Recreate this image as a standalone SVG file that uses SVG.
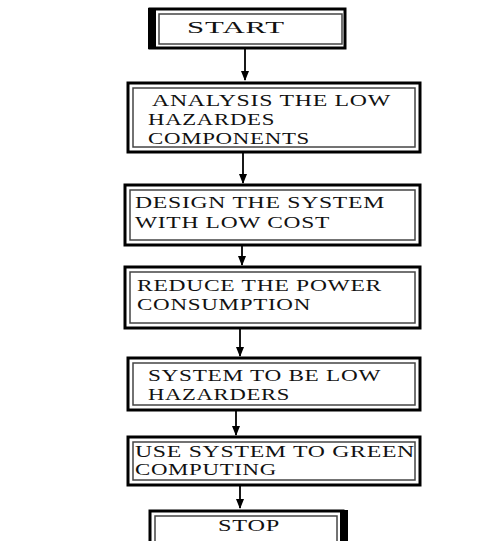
<svg xmlns="http://www.w3.org/2000/svg" width="495" height="541" viewBox="0 0 495 541">
<defs>
<style>
.o{fill:#fff;stroke:#000;stroke-width:3}
.i{fill:none;stroke:#444;stroke-width:1.5}
.t{font-family:"Liberation Serif","Times New Roman",serif;font-size:16px;letter-spacing:0.5px;fill:#111}
.c{stroke:#000;stroke-width:1.8;fill:none;marker-end:url(#ah)}
</style>
<marker id="ah" markerWidth="10" markerHeight="8" refX="9" refY="4" orient="auto" markerUnits="userSpaceOnUse">
<path d="M0,0 L10,4 L0,8 Z" fill="#000"/>
</marker>
</defs>
<rect width="495" height="541" fill="#fff"/>
<g id="connectors">
<line class="c" x1="245" y1="48" x2="245" y2="80"/>
<line class="c" x1="243" y1="153" x2="243" y2="183"/>
<line class="c" x1="242" y1="246" x2="242" y2="265"/>
<line class="c" x1="240" y1="329" x2="240" y2="356"/>
<line class="c" x1="236" y1="411" x2="236" y2="435"/>
<line class="c" x1="240" y1="486" x2="240" y2="508"/>
</g>
<g id="start">
<rect class="o" x="150" y="9" width="195" height="39"/>
<rect x="148" y="8" width="8" height="41" fill="#000"/>
<rect class="i" x="159" y="14" width="183" height="30"/>
<text class="t" x="187" y="33" textLength="98" lengthAdjust="spacingAndGlyphs">START</text>
</g>
<g id="analysis">
<rect class="o" x="128" y="83" width="292" height="69"/>
<rect class="i" x="133" y="88" width="282" height="59"/>
<text class="t" x="152" y="106" textLength="239" lengthAdjust="spacingAndGlyphs">ANALYSIS THE LOW</text>
<text class="t" x="148" y="125" textLength="127" lengthAdjust="spacingAndGlyphs">HAZARDES</text>
<text class="t" x="148" y="144" textLength="162" lengthAdjust="spacingAndGlyphs">COMPONENTS</text>
</g>
<g id="design">
<rect class="o" x="125" y="185" width="295" height="60"/>
<rect class="i" x="130" y="190" width="285" height="50"/>
<text class="t" x="135" y="208" textLength="250" lengthAdjust="spacingAndGlyphs">DESIGN THE SYSTEM</text>
<text class="t" x="135" y="228" textLength="195" lengthAdjust="spacingAndGlyphs">WITH LOW COST</text>
</g>
<g id="reduce">
<rect class="o" x="125" y="267" width="295" height="61"/>
<rect class="i" x="130" y="272" width="285" height="51"/>
<text class="t" x="137" y="291" textLength="245" lengthAdjust="spacingAndGlyphs">REDUCE THE POWER</text>
<text class="t" x="137" y="310" textLength="174" lengthAdjust="spacingAndGlyphs">CONSUMPTION</text>
</g>
<g id="lowhaz">
<rect class="o" x="128" y="358" width="292" height="52"/>
<rect class="i" x="133" y="363" width="282" height="42"/>
<text class="t" x="148" y="381" textLength="233" lengthAdjust="spacingAndGlyphs">SYSTEM TO BE LOW</text>
<text class="t" x="148" y="400" textLength="142" lengthAdjust="spacingAndGlyphs">HAZARDERS</text>
</g>
<g id="green">
<rect class="o" x="128" y="437" width="292" height="48"/>
<rect class="i" x="133" y="442" width="282" height="38"/>
<text class="t" x="135" y="457" textLength="280" lengthAdjust="spacingAndGlyphs">USE SYSTEM TO GREEN</text>
<text class="t" x="135" y="475" textLength="142" lengthAdjust="spacingAndGlyphs">COMPUTING</text>
</g>
<g id="stop">
<rect class="o" x="150" y="511" width="193" height="34"/>
<rect x="340" y="510" width="8" height="31" fill="#000"/>
<rect class="i" x="155" y="516" width="182" height="28"/>
<text class="t" x="218" y="531" textLength="62" lengthAdjust="spacingAndGlyphs">STOP</text>
</g>
</svg>
